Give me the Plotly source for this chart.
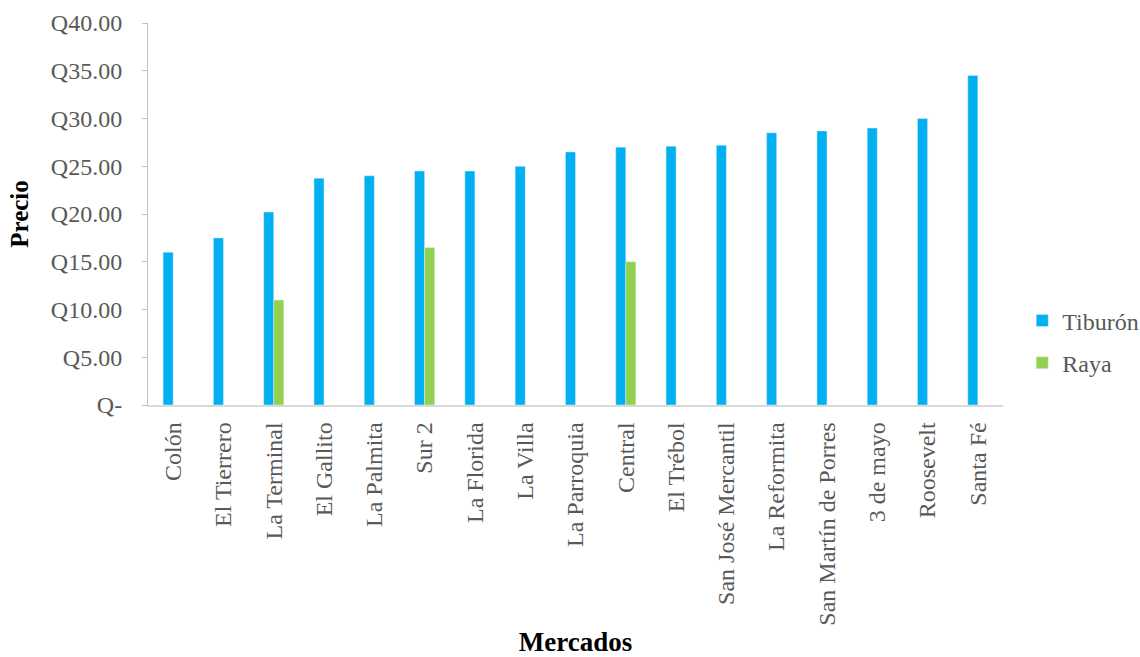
import plotly.graph_objects as go

mercados = ["Colón", "El Tierrero", "La Terminal", "El Gallito", "La Palmita", "Sur 2",
            "La Florida", "La Villa", "La Parroquia", "Central", "El Trébol",
            "San José Mercantil", "La Reformita", "San Martín de Porres", "3 de mayo",
            "Roosevelt", "Santa Fé"]
tiburon = [16.0, 17.5, 20.2, 23.75, 24.0, 24.5, 24.5, 25.0, 26.5, 27.0, 27.1,
           27.2, 28.5, 28.7, 29.0, 30.0, 34.5]
raya = [None, None, 11.0, None, None, 16.5, None, None, None, 15.0, None,
        None, None, None, None, None, None]
y_ticks = [0, 5, 10, 15, 20, 25, 30, 35, 40]
y_ticklabels = ["Q-", "Q5.00", "Q10.00", "Q15.00", "Q20.00", "Q25.00", "Q30.00", "Q35.00", "Q40.00"]

FONT = "Liberation Serif"
GRAY = "#595959"

fig = go.Figure()
fig.add_trace(go.Bar(x=mercados, y=tiburon, name="Tiburón", marker_color="#00B0F0",
                     legendgroup="a"))
fig.add_trace(go.Bar(x=mercados, y=raya, name="Raya", marker_color="#92D050",
                     legendgroup="b"))

fig.update_layout(
    width=1140, height=657,
    margin=dict(l=148, r=137, t=23, b=252, autoexpand=False),
    plot_bgcolor="white", paper_bgcolor="white",
    barmode="group", bargap=0.6, bargroupgap=0,
    font=dict(family=FONT, size=24, color=GRAY),
    legend=dict(x=1.0225, xanchor="left", y=0.279, yanchor="top",
                font=dict(family=FONT, size=24, color=GRAY),
                tracegroupgap=8, traceorder="grouped"),
    xaxis=dict(
        automargin=False,
        showline=True, linecolor="#d9d9d9", linewidth=1.5,
        tickangle=-90, ticks="", showgrid=False,
        ticklabelstandoff=6,
        tickfont=dict(family=FONT, size=24, color=GRAY),
        title=dict(text="<b>Mercados</b>", font=dict(family=FONT, size=27, color="black")),
    ),
    yaxis=dict(
        automargin=False,
        range=[0, 40], tickvals=y_ticks, ticktext=y_ticklabels,
        showline=True, linecolor="#bfbfbf", linewidth=1,
        ticks="outside", ticklen=5, tickcolor="#bfbfbf",
        ticklabelstandoff=15,
        showgrid=False, zeroline=False,
        tickfont=dict(family=FONT, size=24, color=GRAY),
        title=dict(text="<b>Precio</b>", font=dict(family=FONT, size=25, color="black")),
    ),
)

fig.write_html("out.html")
